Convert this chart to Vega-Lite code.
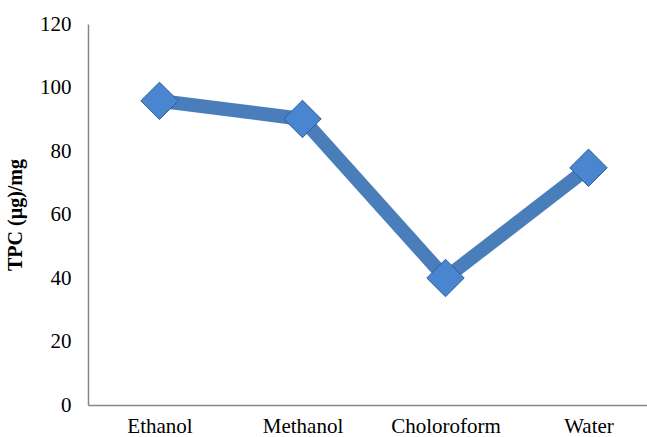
{
  "$schema": "https://vega.github.io/schema/vega-lite/v6.json",
  "autosize": "none",
  "padding": {"left": 88, "top": 24, "right": 0, "bottom": 32},
  "width": 572,
  "height": 381,
  "background": "white",
  "config": {"view": {"stroke": null}, "font": "Liberation Serif"},
  "data": {"values": [
    {"solvent": "Ethanol", "tpc": 95.8},
    {"solvent": "Methanol", "tpc": 90.1},
    {"solvent": "Choloroform", "tpc": 40.0},
    {"solvent": "Water", "tpc": 74.7}
  ]},
  "encoding": {
    "x": {"field": "solvent", "type": "nominal", "sort": null,
      "scale": {"paddingInner": 0, "paddingOuter": 0},
      "axis": {"title": null, "labelAngle": 0, "labelFont": "Liberation Serif", "labelFontSize": 21, "labelColor": "#000000",
        "domainColor": "#868686", "domainWidth": 1.5, "ticks": false, "labelPadding": 10, "grid": false}},
    "y": {"field": "tpc", "type": "quantitative",
      "scale": {"domain": [0, 120], "nice": false},
      "axis": {"title": "TPC (µg)/mg", "titleFont": "Liberation Serif", "titleFontSize": 20, "titleFontWeight": "bold", "titleColor": "#000000",
        "titlePadding": 14, "values": [0, 20, 40, 60, 80, 100, 120],
        "labelFont": "Liberation Serif", "labelFontSize": 21, "labelColor": "#000000", "labelPadding": 17,
        "domainColor": "#868686", "domainWidth": 1.5, "ticks": false, "grid": false}}
  },
  "layer": [
    {"mark": {"type": "line", "color": "#4a7ebb", "strokeWidth": 14, "strokeJoin": "miter"}},
    {"mark": {"type": "point", "shape": "diamond", "size": 1400, "filled": true, "fill": "#4a86cf", "stroke": "#2e5d98", "strokeWidth": 1, "opacity": 1}}
  ]
}
